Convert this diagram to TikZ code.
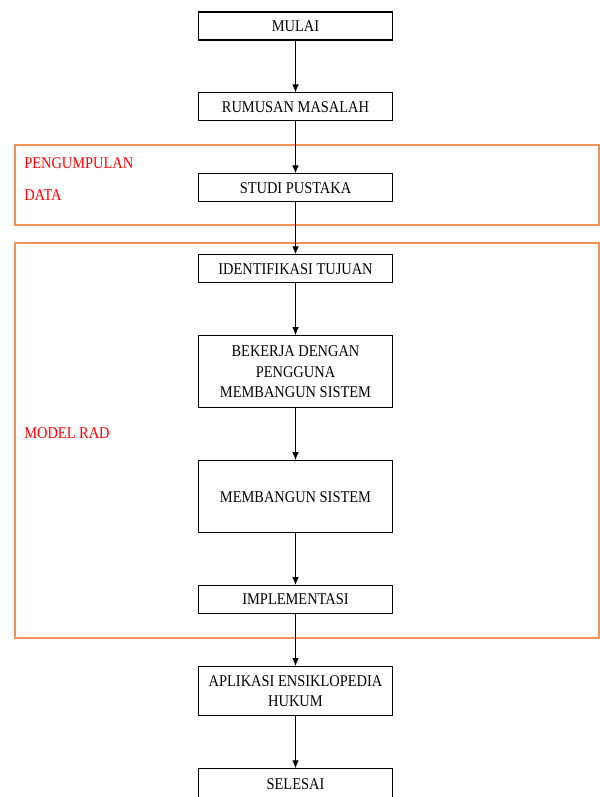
\documentclass[tikz,border=0pt]{standalone}
\usepackage{fontspec}
\setmainfont{Liberation Serif}[FakeStretch=0.88]
\usetikzlibrary{arrows.meta,positioning}
\definecolor{frameorange}{RGB}{241,146,90}
\definecolor{lblred}{RGB}{255,0,0}

\begin{document}
\begin{tikzpicture}[x=0.75pt,y=-0.75pt,node distance=38.9pt,
  every node/.style={font=\fontsize{12.3}{15.6}\selectfont},
  stepbox/.style={draw=black,line width=0.8pt,fill=white,minimum width=146pt,
                  minimum height=21pt,inner sep=2pt,align=center},
  tallbox/.style={stepbox,minimum height=54pt},
  phase/.style={draw=frameorange,line width=0.9pt},
  lbl/.style={text=lblred,anchor=west,inner sep=0pt,align=left},
  ar/.style={-{Latex[length=6pt,width=5pt]},line width=0.8pt}]

\useasboundingbox (0,0) rectangle (600,797);
% phase frames
\draw[phase] (15,145) rectangle (599,225);
\draw[phase] (15,243) rectangle (599,638);

\node[lbl] (lblpeng) at (24,163) {PENGUMPULAN};
\node[lbl] (lbldata) at (24,195) {DATA};
\node[lbl] (lblrad) at (24,433) {MODEL RAD};

\node[stepbox] (mulai) at (295.5,26) {MULAI};
\node[stepbox,below=of mulai] (rumusan) {RUMUSAN MASALAH};
\node[stepbox,below=of rumusan] (studi) {STUDI PUSTAKA};
\node[stepbox,below=of studi] (ident) {IDENTIFIKASI TUJUAN};
\node[tallbox,below=of ident] (bekerja) {BEKERJA DENGAN\\PENGGUNA\\MEMBANGUN SISTEM};
\node[tallbox,below=of bekerja] (bangun) {MEMBANGUN SISTEM};
\node[stepbox,below=of bangun] (impl) {IMPLEMENTASI};
\node[stepbox,minimum height=37pt,below=of impl] (aplikasi) {APLIKASI ENSIKLOPEDIA\\HUKUM};
\node[stepbox,minimum height=23pt,below=of aplikasi] (selesai) {SELESAI};

\foreach \a/\b in {mulai/rumusan, rumusan/studi, studi/ident, ident/bekerja,
                   bekerja/bangun, bangun/impl, impl/aplikasi, aplikasi/selesai}
  \draw[ar] (\a)--(\b);
\end{tikzpicture}
\end{document}
